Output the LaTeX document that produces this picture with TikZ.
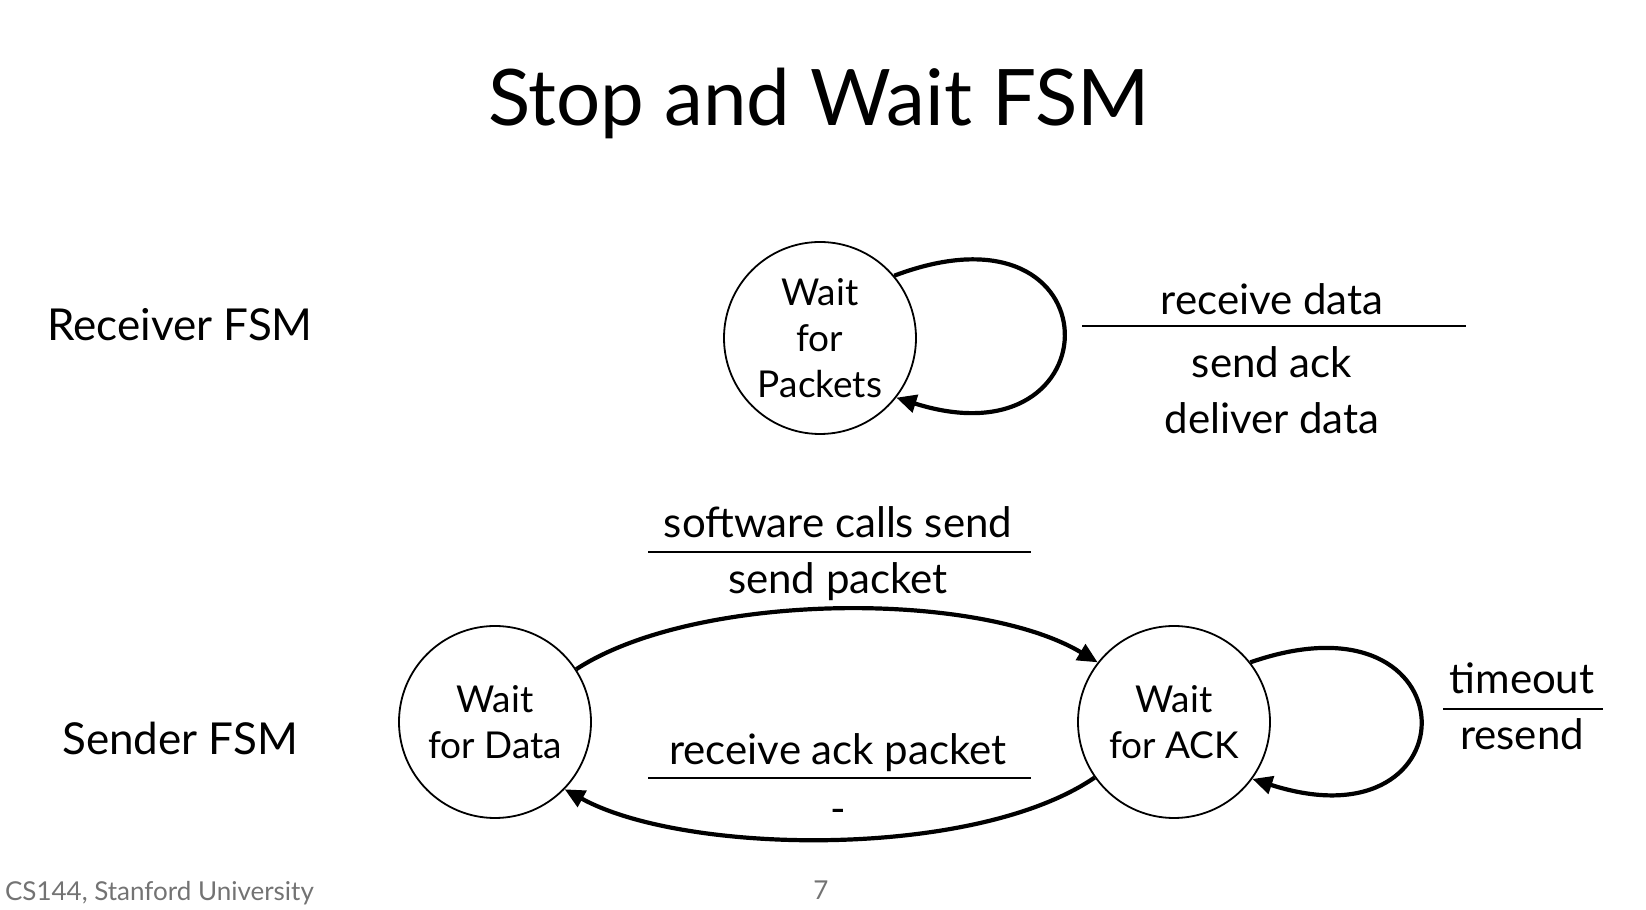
\documentclass[tikz,border=0pt]{standalone}
\usepackage{fontspec}
\setmainfont{Lato}
\usetikzlibrary{arrows.meta}

\begin{document}
\begin{tikzpicture}[
    x=0.5pt, y=0.5pt,
    state/.style={circle, draw, line width=0.9pt, minimum size=96pt, inner sep=0pt,
                  align=center, font=\fontsize{18.5}{23}\selectfont},
    trans/.style={line width=2.1pt, -{Triangle[length=10pt,width=9pt]}},
    lbl/.style={anchor=base, font=\fontsize{21}{25}\selectfont},
    side/.style={font=\fontsize{22}{26}\selectfont},
    bar/.style={line width=1.3pt},
    foot/.style={anchor=base, text=black!55, font=\fontsize{13}{15}\selectfont},
]
\clip (0,0) rectangle (1646,910);

\node[anchor=base, font=\fontsize{39}{44}\selectfont] (title) at (819,784) {Stop and Wait FSM};

% receiver
\node[side] (recv) at (180,585) {Receiver FSM};
\node[state] (wp) at (820,572) {Wait\\for\\Packets};
\draw[trans] (wp.40) .. controls +(225,85) and +(221,-70) .. (wp.-38);
\node[lbl] (rdata) at (1272,595) {receive data};
\draw[bar] (1082,584) -- (1466,584);
\node[lbl] (sack) at (1272,532) {send ack};
\node[lbl] (ddata) at (1272,476) {deliver data};

% sender
\node[side] (send) at (180,172) {Sender FSM};
\node[state] (wd) at (495,188) {Wait\\for Data};
\node[state] (wa) at (1174,188) {Wait\\for ACK};
\draw[trans] (wd.33) .. controls +(120,78) and +(-120,72) .. (wa.142);
\draw[trans] (wa.215) .. controls +(-120,-82) and +(120,-66) .. (wd.-44);
\draw[trans] (wa.38) .. controls +(224,78) and +(224,-72) .. (wa.-36);

\node[lbl] (swcall) at (838,372) {software calls send};
\draw[bar] (648,358) -- (1031,358);
\node[lbl] (spkt) at (838,316) {send packet};
\node[lbl] (rack) at (838,145) {receive ack packet};
\draw[bar] (648,132) -- (1031,132);
\node[lbl] (none) at (838,86) {-};
\node[lbl] (tout) at (1522,216) {timeout};
\draw[bar] (1443,201) -- (1603,201);
\node[lbl] (resend) at (1522,160) {resend};

% footer
\node[foot, anchor=base west] (course) at (-2,9) {CS144, Stanford University};
\node[foot] (page) at (821,10) {7};
\end{tikzpicture}
\end{document}
